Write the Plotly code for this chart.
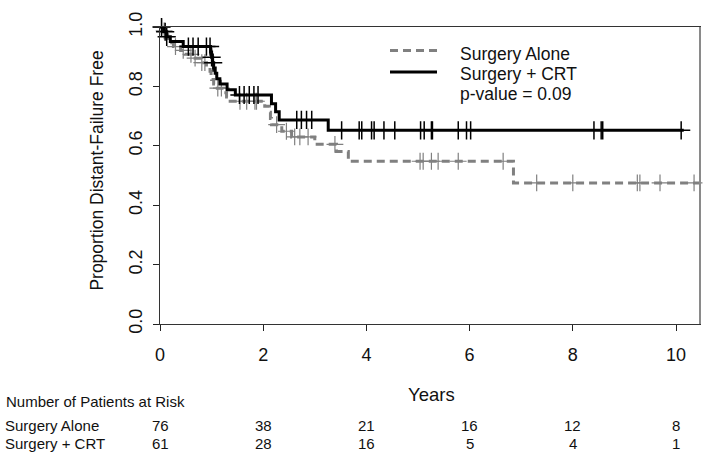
import numpy as np
import plotly.graph_objects as go

# ---------------- data ----------------
crt_times = [0, 0.07, 0.13, 0.2, 0.45, 0.98, 1.0, 1.02, 1.04, 1.07, 1.1, 1.16, 1.3, 1.46,
             2.16, 2.24, 2.31, 3.26, 10.15]
crt_surv = [1.0, 0.984, 0.967, 0.951, 0.934, 0.916, 0.898, 0.880, 0.862, 0.844, 0.826,
            0.808, 0.789, 0.771, 0.742, 0.715, 0.687, 0.652, 0.652]
crt_censor = [0.03, 0.1, 0.13, 0.55, 0.64, 0.74, 0.9, 0.97, 1.0, 1.03, 1.54, 1.63, 1.73,
              1.82, 1.9, 2.65, 2.74, 2.84, 2.94, 3.52, 3.86, 3.91, 4.1, 4.15, 4.34, 4.55,
              5.05, 5.12, 5.26, 5.28, 5.78, 5.94, 6.02, 8.41, 8.55, 8.58, 10.1]

alone_times = [0, 0.05, 0.1, 0.15, 0.19, 0.26, 0.4, 0.48, 0.68, 0.81, 0.9, 0.97, 0.99,
               1.0, 1.04, 1.07, 1.23, 1.29, 1.36, 2.03, 2.12, 2.14, 2.16, 2.36, 2.55,
               3.0, 3.42, 3.65, 6.85, 10.47]
alone_surv = [1.0, 0.987, 0.974, 0.961, 0.947, 0.934, 0.921, 0.908, 0.895, 0.880, 0.866,
              0.851, 0.837, 0.823, 0.808, 0.794, 0.779, 0.764, 0.750, 0.733, 0.713, 0.692,
              0.671, 0.649, 0.630, 0.605, 0.581, 0.548, 0.475, 0.475]
alone_censor = [0.03, 0.08, 0.3, 0.45, 0.6, 0.68, 0.81, 0.87, 1.12, 1.19, 1.55, 1.68,
                1.84, 1.87, 2.26, 2.45, 2.61, 2.71, 2.87, 3.39, 5.04, 5.1, 5.26, 5.39,
                5.78, 6.65, 7.3, 8.0, 9.25, 9.3, 9.69, 10.35]

risk_years = [0, 2, 4, 6, 8, 10]
risk_alone = [76, 38, 21, 16, 12, 8]
risk_crt = [61, 28, 16, 5, 4, 1]

y_ticks = [0.0, 0.2, 0.4, 0.6, 0.8, 1.0]
y_ticklabels = ["0.0", "0.2", "0.4", "0.6", "0.8", "1.0"]
x_ticks = [0, 2, 4, 6, 8, 10]

series_names = ["Surgery Alone", "Surgery + CRT"]
p_value_text = "p-value = 0.09"


def step_at(times, surv, t):
    idx = np.searchsorted(np.array(times), t, side="right") - 1
    return surv[int(idx)]


FONT = "Liberation Sans, Arial, sans-serif"
GRAY = "#808080"

fig = go.Figure()

# Surgery Alone (gray dashed)
fig.add_trace(go.Scatter(x=alone_times, y=alone_surv, mode="lines",
                         line=dict(shape="hv", color=GRAY, width=3, dash="8px,5px"),
                         showlegend=False, cliponaxis=False, hoverinfo="skip"))
fig.add_trace(go.Scatter(x=alone_censor, y=[step_at(alone_times, alone_surv, t) for t in alone_censor],
                         mode="markers",
                         marker=dict(symbol="cross-thin", size=12, color=GRAY,
                                     line=dict(color=GRAY, width=1.2)),
                         showlegend=False, cliponaxis=False, hoverinfo="skip"))

# Surgery + CRT (black solid)
fig.add_trace(go.Scatter(x=crt_times, y=crt_surv, mode="lines",
                         line=dict(shape="hv", color="black", width=3),
                         showlegend=False, cliponaxis=False, hoverinfo="skip"))
fig.add_trace(go.Scatter(x=crt_censor, y=[step_at(crt_times, crt_surv, t) for t in crt_censor],
                         mode="markers",
                         marker=dict(symbol="cross-thin", size=13, color="black",
                                     line=dict(color="black", width=1.5)),
                         showlegend=False, cliponaxis=False, hoverinfo="skip"))

L, R, T, B = 160, 14, 20, 140
W, H = 714, 464
pw, ph = W - L - R, H - T - B


def px_x(px):
    return (px - L) / pw


def px_y(py):
    return (H - B - py) / ph


annotations = []
shapes = []

# right frame edge (gray, as in reference)
shapes.append(dict(type="line", xref="paper", yref="paper", x0=1, x1=1, y0=0, y1=1,
                   line=dict(color="#8a8a8a", width=2), layer="above"))

# legend (manual)
shapes.append(dict(type="line", xref="paper", yref="paper", x0=px_x(390), x1=px_x(437),
                   y0=px_y(44), y1=px_y(44), line=dict(color=GRAY, width=3, dash="8px,5px")))
shapes.append(dict(type="line", xref="paper", yref="paper", x0=px_x(390), x1=px_x(437),
                   y0=px_y(66), y1=px_y(66), line=dict(color="black", width=3)))
for txt, py in zip(series_names + [p_value_text], [48, 68, 89]):
    annotations.append(dict(text=txt, xref="paper", yref="paper", x=px_x(459), y=px_y(py),
                            xanchor="left", yanchor="middle", showarrow=False, borderpad=0,
                            font=dict(family=FONT, size=17.5, color="#111")))

# axis titles
annotations.append(dict(text="Years", xref="paper", yref="paper", x=px_x(431), y=px_y(396),
                        xanchor="center", yanchor="middle", showarrow=False,
                        font=dict(family=FONT, size=18.5, color="#111")))
annotations.append(dict(text="Proportion Distant-Failure Free", xref="paper", yref="paper",
                        x=px_x(97), y=px_y(167), xanchor="center", yanchor="middle",
                        textangle=-90, showarrow=False,
                        font=dict(family=FONT, size=17.5, color="#111")))

# at-risk table
annotations.append(dict(text="Number of Patients at Risk", xref="paper", yref="paper",
                        x=px_x(4), y=px_y(403), xanchor="left", yanchor="middle",
                        showarrow=False, font=dict(family=FONT, size=15, color="#111")))
for name, vals, py in zip(series_names, [risk_alone, risk_crt], [428, 446]):
    annotations.append(dict(text=name, xref="paper", yref="paper", x=px_x(4), y=px_y(py),
                            xanchor="left", yanchor="middle", showarrow=False, borderpad=0,
                            font=dict(family=FONT, size=15, color="#111")))
    for yr, v in zip(risk_years, vals):
        annotations.append(dict(text=str(v), xref="x", yref="paper", x=yr, y=px_y(py),
                                xanchor="center", yanchor="middle", showarrow=False,
                                borderpad=0, font=dict(family=FONT, size=15, color="#111")))

fig.update_layout(
    width=W, height=H,
    margin=dict(l=L, r=R, t=T, b=B, pad=0),
    paper_bgcolor="white", plot_bgcolor="white",
    font=dict(family=FONT, color="#111"),
    annotations=annotations, shapes=shapes,
    xaxis=dict(range=[0, 10.465], tickvals=x_ticks, ticks="outside", ticklen=6,
               tickcolor="#222", showline=True, linecolor="#333", linewidth=1, mirror=True,
               showgrid=False, zeroline=False, tickfont=dict(family=FONT, size=18, color="#111"),
               ticklabelstandoff=8),
    yaxis=dict(range=[0, 1], tickvals=y_ticks, ticktext=y_ticklabels, ticks="outside",
               ticklen=6, tickcolor="#222", tickangle=-90, showline=True, linecolor="#333",
               linewidth=1, mirror=True, showgrid=False, zeroline=False,
               tickfont=dict(family=FONT, size=18, color="#111"), ticklabelstandoff=4),
)

fig.write_html("out.html", config={"displayModeBar": False},
               post_script="document.body.style.margin='0';document.body.style.overflow='hidden';")
